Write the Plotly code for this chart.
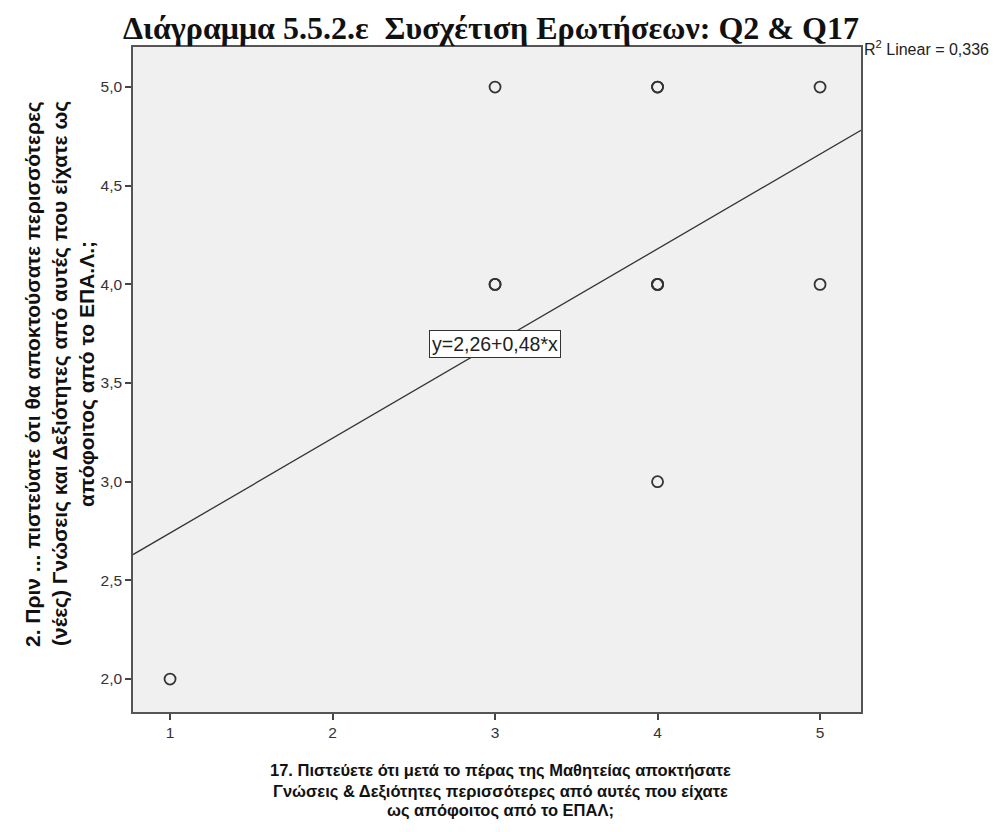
import numpy as np
import plotly.graph_objects as go

# Data
q17 = [1, 3, 4, 5, 3, 3, 4, 4, 5, 4, 4, 4]
q2 = [2, 5, 5, 5, 4, 4, 4, 4, 4, 3, 5, 4]
intercept = 2.26
slope = 0.48
r2 = "0,336"
x_ticks = [1, 2, 3, 4, 5]
y_ticks = [2.0, 2.5, 3.0, 3.5, 4.0, 4.5, 5.0]

x_range = [0.772, 5.252]
y_range = [1.833, 5.203]

title = "Διάγραμμα 5.5.2.ε\u00a0\u00a0Συσχέτιση Ερωτήσεων: Q2 & Q17"
y_title_lines = ["2. Πριν ... πιστεύατε ότι θα αποκτούσατε περισσότερες",
                 "(νέες) Γνώσεις και Δεξιότητες από αυτές που είχατε ως",
                 "απόφοιτος από το ΕΠΑ.Λ.;"]
x_title_lines = ["17. Πιστεύετε ότι μετά το πέρας της Μαθητείας αποκτήσατε",
                 "Γνώσεις & Δεξιότητες περισσότερες από αυτές που είχατε",
                 "ως απόφοιτος από το ΕΠΑΛ;"]

# page body has an 8px margin: figure drawn 8px smaller, coordinates offset by 8
OFF = 8
W, H = 1000 - OFF, 832 - OFF
L, R, T, B = 133 - OFF, 139, 47 - OFF, 120
pw, ph = W - L - R, H - T - B


def px(xr):  # reference page x -> paper fraction
    return (xr - OFF - L) / pw


def py(yr):  # reference page y -> paper fraction
    return (H - B - (yr - OFF)) / ph


line_x = np.array(x_range)
line_y = intercept + slope * line_x

fig = go.Figure()
fig.add_trace(go.Scatter(
    x=line_x, y=line_y, mode="lines",
    line=dict(color="#333333", width=1.3), hoverinfo="skip", showlegend=False))
fig.add_trace(go.Scatter(
    x=q17, y=q2, mode="markers",
    marker=dict(symbol="circle-open", size=11, color="#333333", line=dict(width=1.8)),
    showlegend=False))

# regression equation label
fig.add_annotation(
    x=3.0, y=3.7, xref="x", yref="y",
    text="y=2,26+0,48*x", showarrow=False,
    font=dict(family="Liberation Sans, Arial", size=19.5, color="#222222"),
    bgcolor="white", bordercolor="#333333", borderwidth=1, borderpad=2)
# R2 label
fig.add_annotation(
    x=1.0, y=py(48), xref="paper", yref="paper", xanchor="left", yanchor="middle",
    xshift=1,
    text="R<sup>2</sup> Linear = " + r2, showarrow=False,
    font=dict(family="Liberation Sans, Arial", size=16, color="#222222"))
# title
fig.add_annotation(
    x=px(491), y=py(28), xref="paper", yref="paper", xanchor="center", yanchor="middle",
    text="<b>" + title + "</b>", showarrow=False,
    font=dict(family="Liberation Serif, Times New Roman", size=32, color="#111111"))
# y axis title (one annotation per line)
for xc, txt in zip([33, 60, 87], y_title_lines):
    fig.add_annotation(
        x=px(xc), y=py(374), xref="paper", yref="paper",
        xanchor="center", yanchor="middle", textangle=-90,
        text="<b>" + txt + "</b>", showarrow=False,
        font=dict(family="Liberation Sans, Arial", size=21, color="#111111"))
# x axis title (one annotation per line)
for yc, txt in zip([771, 791, 810], x_title_lines):
    fig.add_annotation(
        x=px(500), y=py(yc), xref="paper", yref="paper",
        xanchor="center", yanchor="middle",
        text="<b>" + txt + "</b>", showarrow=False,
        font=dict(family="Liberation Sans, Arial", size=16.5, color="#111111"))

axis_common = dict(showgrid=False, zeroline=False, automargin=False,
                   showline=True, mirror=True, linecolor="#555555", linewidth=1.6,
                   ticks="outside", ticklen=6, tickwidth=1.5, tickcolor="#444444",
                   tickfont=dict(family="Liberation Sans, Arial", size=15.5, color="#333333"))

fig.update_layout(
    width=W, height=H,
    margin=dict(l=L, r=R, t=T, b=B),
    paper_bgcolor="white", plot_bgcolor="#F0F0F0",
    separators=",.",
    xaxis=dict(range=x_range, tickvals=x_ticks, tickformat="d", **axis_common),
    yaxis=dict(range=y_range, tickvals=y_ticks, tickformat=".1f", **axis_common),
)

fig.write_html("out.html")
